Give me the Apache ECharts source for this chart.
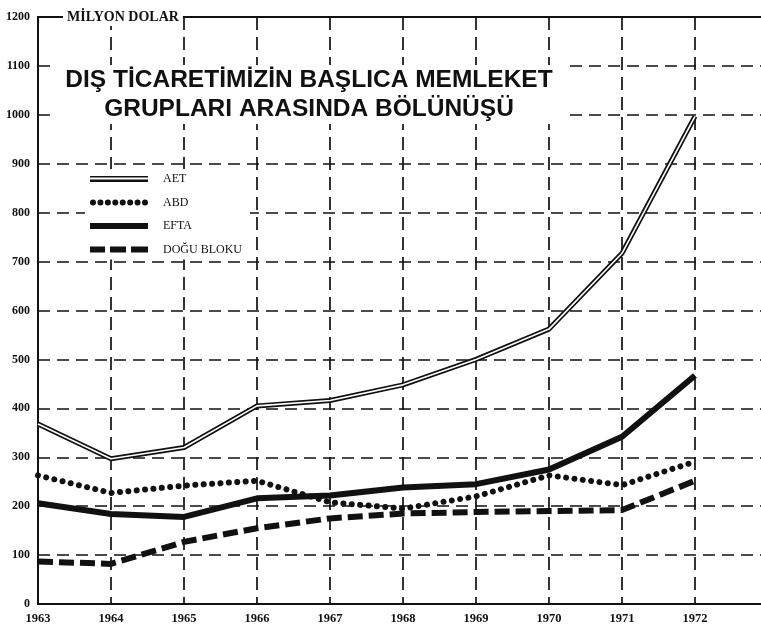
<!DOCTYPE html>
<html>
<head>
<meta charset="utf-8">
<script src="https://cdn.jsdelivr.net/npm/echarts@6/dist/echarts.min.js"></script>
<style>html,body{margin:0;padding:0;background:#fff}#c{width:761px;height:640px}</style>
</head>
<body>
<div id="c"></div>
<script>
// ---- data ----
const years = ['1963','1964','1965','1966','1967','1968','1969','1970','1971','1972'];
const yTicks = [0,100,200,300,400,500,600,700,800,900,1000,1100,1200];
const aet  = [368, 297, 320, 405, 416, 448, 500, 562, 717, 997];
const abd  = [263, 227, 242, 252, 208, 195, 220, 263, 243, 291];
const efta = [206, 184, 178, 216, 222, 238, 245, 275, 342, 467];
const dogu = [87, 82, 127, 155, 175, 185, 188, 190, 192, 252];
const seriesNames = ['AET','ABD','EFTA','DOĞU BLOKU'];
const titleLine1 = 'DIŞ TİCARETİMİZİN BAŞLICA MEMLEKET';
const titleLine2 = 'GRUPLARI ARASINDA BÖLÜNÜŞÜ';
const unitText = 'MİLYON DOLAR';

// ---- styling helpers ----
const ink = '#111';
const serif = '"Liberation Serif","DejaVu Serif",serif';
const sans = '"Liberation Sans",Arial,sans-serif';
const cats = years.concat(['']);
function dotsPath(n, w, r){
  let s = 'path://';
  const step = (w - 2*r) / (n - 1);
  for (let i = 0; i < n; i++) {
    const cx = r + i*step;
    s += 'M' + (cx - r) + ',' + r + 'a' + r + ',' + r + ' 0 1,0 ' + (2*r) + ',0a' + r + ',' + r + ' 0 1,0 ' + (-2*r) + ',0Z';
  }
  return s;
}
const icons = {
  'AET': 'path://M0,0H58V1.6H0ZM0,3.4H58V6H0Z',
  'ABD': dotsPath(8, 58, 3),
  'EFTA': 'path://M0,0H58V6H0Z',
  'DOĞU BLOKU': 'path://M0,0H15V6H0ZM20,0H36V6H20ZM41,0H58V6H41Z'
};

const chart = echarts.init(document.getElementById('c'), null, {renderer:'canvas'});
chart.setOption({
  backgroundColor: '#fff',
  animation: false,
  title: [
    {
      text: '{a|' + titleLine1 + '}\n{b|' + titleLine2 + '}',
      left: 295, top: 67, textAlign: 'center',
      backgroundColor: '#fff',
      padding: [3, 14, 2, 14],
      textStyle: {
        align: 'center',
        rich: {
          a: {fontFamily: sans, fontWeight: 'bold', fontSize: 24.5, lineHeight: 21, color: ink},
          b: {fontFamily: sans, fontWeight: 'bold', fontSize: 24.5, lineHeight: 37, color: ink, verticalAlign: 'middle'}
        }
      }
    },
    {
      text: unitText,
      left: 63, top: 9,
      backgroundColor: '#fff',
      padding: [1, 4, 1, 4],
      textStyle: {fontFamily: serif, fontWeight: 'bold', fontSize: 14, lineHeight: 15, color: ink}
    }
  ],
  legend: {
    orient: 'vertical',
    left: 85, top: 169,
    backgroundColor: '#fff',
    padding: [4, 8, 4, 5],
    itemWidth: 58, itemHeight: 6, itemGap: 11.5,
    textStyle: {fontFamily: serif, fontSize: 12, color: ink, padding: [0,0,0,10]},
    data: seriesNames.map(n => ({name: n, icon: icons[n], itemStyle: {color: ink, borderWidth: 0}}))
  },
  grid: {left: 38, right: -7, top: 17, bottom: 36, containLabel: false, outerBoundsMode: 'none'},
  xAxis: [
    {
      type: 'category', data: cats, boundaryGap: false,
      axisLine: {show: true, lineStyle: {color: ink, width: 2}},
      axisTick: {show: false},
      axisLabel: {fontFamily: serif, fontWeight: 'bold', fontSize: 12.5, color: ink, margin: 8},
      splitLine: {show: true, lineStyle: {color: ink, width: 1.7, type: [13, 7]}}
    },
    {
      type: 'category', data: cats, boundaryGap: false, position: 'top',
      axisLine: {show: true, lineStyle: {color: ink, width: 2}},
      axisTick: {show: false}, axisLabel: {show: false}, splitLine: {show: false}
    }
  ],
  yAxis: {
    type: 'value', min: yTicks[0], max: yTicks[yTicks.length-1], interval: 100,
    axisLine: {show: true, lineStyle: {color: ink, width: 2}},
    axisTick: {show: false},
    axisLabel: {fontFamily: serif, fontWeight: 'bold', fontSize: 12, color: ink, margin: 8,
                formatter: v => String(v)},
    splitLine: {show: true, lineStyle: {color: ink, width: 1.5, type: [12, 7]}}
  },
  series: [
    {name: 'AET', type: 'line', data: aet, symbol: 'none', z: 5,
     itemStyle: {color: ink}, lineStyle: {color: ink, width: 5}},
    {name: 'AET-ic', type: 'line', data: aet, symbol: 'none', z: 6, silent: true,
     itemStyle: {color: '#fff'}, lineStyle: {color: '#fff', width: 1.6}},
    {name: 'ABD', type: 'line', data: abd, symbol: 'none', z: 5,
     itemStyle: {color: ink}, lineStyle: {color: ink, width: 6, type: [0.01, 8.4], cap: 'round'}},
    {name: 'EFTA', type: 'line', data: efta, symbol: 'none', z: 5,
     itemStyle: {color: ink}, lineStyle: {color: ink, width: 6}},
    {name: 'DOĞU BLOKU', type: 'line', data: dogu, symbol: 'none', z: 5,
     itemStyle: {color: ink}, lineStyle: {color: ink, width: 6, type: [15, 6]}}
  ]
});
</script>
</body>
</html>
